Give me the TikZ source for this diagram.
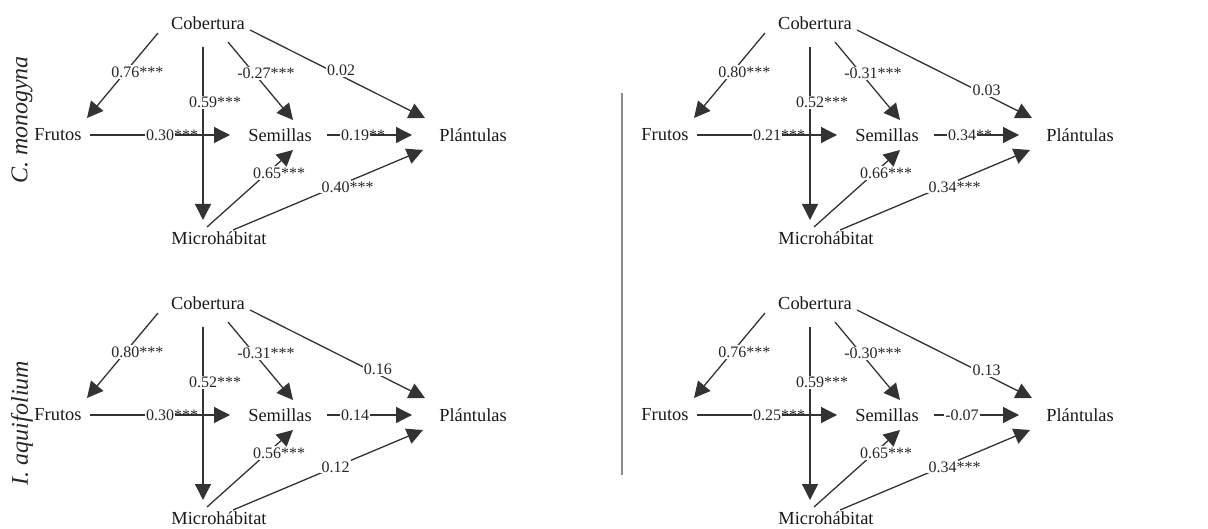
\documentclass[tikz,border=0pt]{standalone}
\usepackage{fontspec}
\setmainfont{Liberation Serif}
\usetikzlibrary{arrows.meta,calc}
\tikzset{
  var/.style={inner sep=0pt, font=\fontsize{9.2}{11}\selectfont, text=black!90},
  lbl/.style={fill=white, inner sep=0.6pt, font=\fontsize{8}{9}\selectfont, text=black!85},
  arr/.style={draw=black!80, line width=0.65pt, -{Triangle[length=8pt,width=8pt]}},
  spname/.style={rotate=90, inner sep=0pt, font=\itshape\fontsize{12}{14}\selectfont, text=black!85},
  divider/.style={draw=black!45, line width=0.7pt}
}
% #1 shift, #2 cf, #3 cm, #4 cs, #5 cp, #6 fs, #7 sp, #8 ms, #9 mp
\newcommand\drawpanel[9]{%
\begin{scope}[shift={(#1)}]
  \node[var] (\p cob) at (208,23) {Cobertura};
  \node[var] (\p fr) at (58,135) {Frutos};
  \node[var] (\p se) at (280,135) {Semillas};
  \node[var] (\p pl) at (473,135) {Plántulas};
  \node[var] (\p mi) at (219,238) {Microhábitat};
  \draw[arr] ($(\p cob)+(-50,10)$) -- node[lbl,pos=0.46]{#2} ($(\p fr)+(29,-17)$);
  \draw[arr] ($(\p cob)+(20,19)$) -- node[lbl,pos=0.40]{#4} ($(\p se)+(13,-15)$);
  \draw[arr] ($(\p cob)+(42,7)$) -- node[lbl,pos=\cppos,yshift=2.5pt]{#5} ($(\p pl)+(-48,-17)$);
  \draw[arr] ($(\p fr)+(32,0)$) -- node[lbl,pos=0.5]{#6} ($(\p se)+(-50,0)$);
  \draw[arr] ($(\p cob)+(-5,24)$) -- node[lbl,pos=0.32]{#3} ($(\p mi)+(-16,-18)$);
  \draw[arr] ($(\p se)+(47,0)$) -- node[lbl,pos=0.33]{#7} ($(\p pl)+(-61,0)$);
  \draw[arr] ($(\p mi)+(-12,-11)$) -- node[lbl,pos=0.70]{#8} ($(\p se)+(13,15)$);
  \draw[arr] ($(\p mi)+(14,-8)$) -- node[lbl,pos=0.54]{#9} ($(\p pl)+(-50,15)$);
\end{scope}}
\newcommand\stars[1]{\rlap{#1}}
\begin{document}
\begin{tikzpicture}[x=0.5pt,y=-0.5pt]
  \useasboundingbox (0,0) rectangle (1208,529);
  \def\p{a}\def\cppos{0.52}
  \drawpanel{0,0}{0.76\stars{***}}{0.59\stars{***}}{-0.27\stars{***}}{0.02}{0.30\stars{***}}{0.19\stars{**}}{0.65\stars{***}}{0.40\stars{***}}
  \def\p{b}\def\cppos{0.74}
  \drawpanel{607,0}{0.80\stars{***}}{0.52\stars{***}}{-0.31\stars{***}}{0.03}{0.21\stars{***}}{0.34\stars{**}}{0.66\stars{***}}{0.34\stars{***}}
  \def\p{c}\def\cppos{0.73}
  \drawpanel{0,280}{0.80\stars{***}}{0.52\stars{***}}{-0.31\stars{***}}{0.16}{0.30\stars{***}}{0.14}{0.56\stars{***}}{0.12}
  \def\p{d}\def\cppos{0.74}
  \drawpanel{607,280}{0.76\stars{***}}{0.59\stars{***}}{-0.30\stars{***}}{0.13}{0.25\stars{***}}{-0.07}{0.65\stars{***}}{0.34\stars{***}}
  \node[spname] (sp1) at (22,120) {C. monogyna};
  \node[spname] (sp2) at (22,423) {I. aquifolium};
  \coordinate (dtop) at (622,93);
  \coordinate (dbot) at (622,475);
  \draw[divider] (dtop) -- (dbot);
\end{tikzpicture}
\end{document}
